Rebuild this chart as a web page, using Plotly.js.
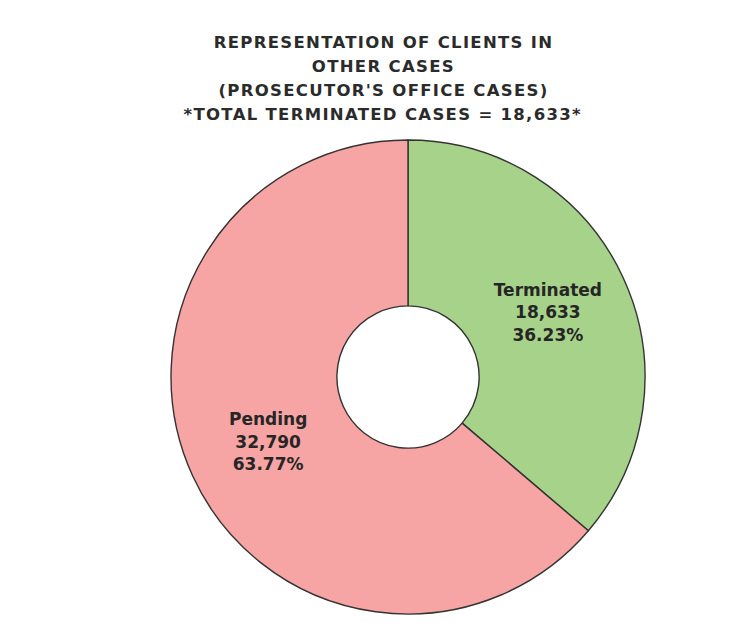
<!DOCTYPE html>
<html>
<head>
<meta charset="utf-8">
<script src="https://cdn.plot.ly/plotly-3.0.1.min.js"></script>
<style>
html,body{margin:0;padding:0;background:#fff;}
#chart{width:742px;height:626px;}
#chart .annotation-text{letter-spacing:1.3px;}
</style>
</head>
<body>
<div id="chart"></div>
<script>
const categories = ["Terminated", "Pending"];
const values = [18633, 32790];
const sliceColors = ["#a6d289", "#f7a4a4"];
const titleLines = [
  "REPRESENTATION OF CLIENTS IN",
  "OTHER CASES",
  "(PROSECUTOR'S OFFICE CASES)",
  "*TOTAL TERMINATED CASES = 18,633*"
];

const trace = {
  type: "pie",
  labels: categories,
  values: values,
  hole: 0.3,
  sort: false,
  direction: "clockwise",
  rotation: 0,
  marker: { colors: sliceColors, line: { color: "#333333", width: 1.4 } },
  textposition: "inside",
  insidetextorientation: "horizontal",
  texttemplate: "<b>%{label}</b><br><b>%{value:,}</b><br><b>%{percent:.2%}</b>",
  textfont: { family: "'DejaVu Sans', sans-serif", size: 17, color: "#262626" },
  hoverinfo: "label+value+percent",
  showlegend: false
};

const annotations = titleLines.map((t, i) => ({
  text: "<b>" + t + "</b>",
  xref: "paper", yref: "paper",
  x: 0.5 - 25/474, y: 1 + (140 - 42 - i*24.3) / 474,
  xanchor: "center", yanchor: "middle",
  showarrow: false,
  font: { family: "'DejaVu Sans', sans-serif", size: 16.5, color: "#2b2b2b" }
}));

const layout = {
  width: 742, height: 626,
  margin: { l: 171, r: 97, t: 140, b: 12 },
  paper_bgcolor: "#ffffff",
  plot_bgcolor: "#ffffff",
  showlegend: false,
  annotations: annotations
};

Plotly.newPlot("chart", [trace], layout, { displayModeBar: false, staticPlot: true });
</script>
</body>
</html>
